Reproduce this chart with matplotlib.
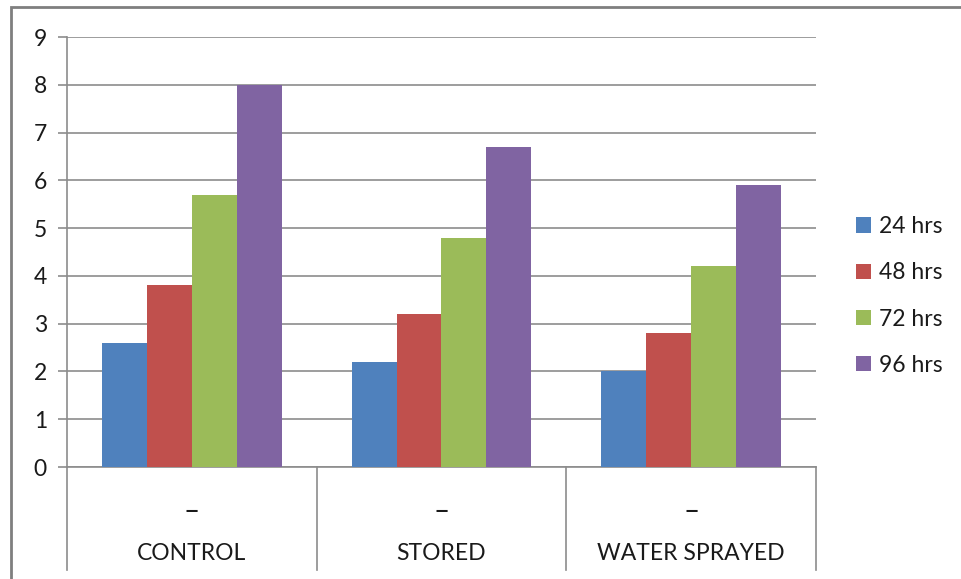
# -*- coding: utf-8 -*-
import numpy as np
import matplotlib
matplotlib.use("Agg")
import matplotlib.pyplot as plt
from matplotlib.patches import Rectangle

plt.rcParams['font.family'] = ['Lato', 'DejaVu Sans']

# data
categories = ['CONTROL', 'STORED', 'WATER SPRAYED']
series = ['24 hrs', '48 hrs', '72 hrs', '96 hrs']
hrs24 = [2.6, 2.2, 2.0]
hrs48 = [3.8, 3.2, 2.8]
hrs72 = [5.7, 4.8, 4.2]
hrs96 = [8.0, 6.7, 5.9]
colors = ['#4F81BD', '#C0504D', '#9BBB59', '#8064A2']

grey = '#8c8c8c'
txt = '#1a1a1a'
fs = 16.5

fig = plt.figure(figsize=(9.61, 5.79), dpi=100)
ax = fig.add_axes([67 / 961, 1 - 467 / 579, (816 - 67) / 961, (467 - 37) / 579])

x = np.arange(len(categories))
w = 0.18
for i, (vals, c, name) in enumerate(zip([hrs24, hrs48, hrs72, hrs96], colors, series)):
    ax.bar(x + (i - 1.5) * w, vals, w, color=c, label=name, zorder=3)

ax.set_xlim(-0.5, 2.5)
ax.set_ylim(0, 9)
ax.set_yticks(range(10))
ax.yaxis.grid(True, color=grey, linewidth=1.2, zorder=0)
ax.tick_params(axis='y', length=6.5, width=1.2, color=grey, pad=8,
               labelsize=fs, labelcolor=txt)
ax.set_xticks([])
for s in ['top', 'right']:
    ax.spines[s].set_visible(False)
ax.spines['left'].set_color(grey)
ax.spines['left'].set_linewidth(1.2)
ax.spines['bottom'].set_color(grey)
ax.spines['bottom'].set_linewidth(1.2)

# multi-level category axis below the plot
trans = ax.get_xaxis_transform()
for xd in np.arange(-0.5, 3.0, 1.0):
    ax.plot([xd, xd], [0, -103 / 430], color=grey, lw=1.2, transform=trans, clip_on=False)
for xi, cat in zip(x, categories):
    ax.text(xi, -45 / 430, '–', transform=trans, ha='center', va='center',
            fontsize=20, color=txt)
    ax.text(xi, -86 / 430, cat, transform=trans, ha='center', va='center',
            fontsize=fs, color=txt)

ax.legend(loc='center left', bbox_to_anchor=(856 / 961, 1 - 296 / 579), bbox_transform=fig.transFigure,
          frameon=False, fontsize=fs, handlelength=0.65, handleheight=0.65, borderpad=0,
          borderaxespad=0, handletextpad=0.35, labelspacing=1.1, labelcolor=txt)

# outer chart border
fig.add_artist(Rectangle((10.5 / 961, -0.1), 1.2, 1.1 - 7 / 579, transform=fig.transFigure,
                         fill=False, edgecolor='#7f7f7f', linewidth=2, clip_on=False))

fig.savefig('out.png', dpi=100)
